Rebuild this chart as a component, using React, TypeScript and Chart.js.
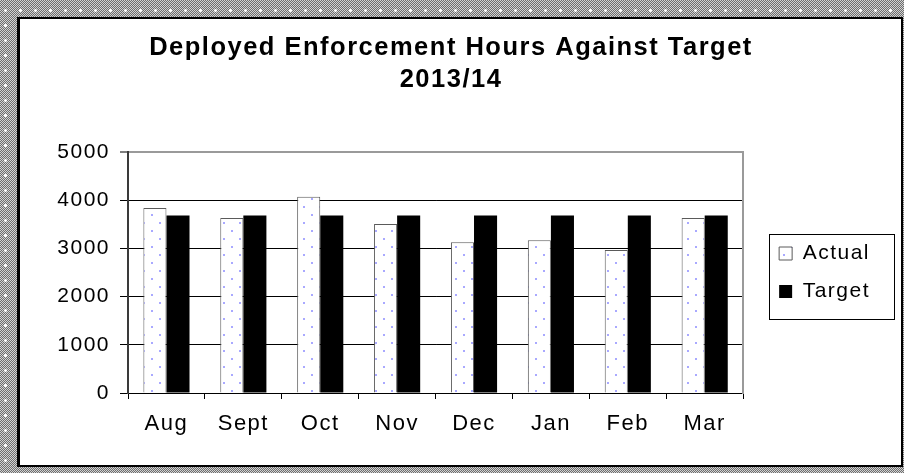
import React, { useEffect, useRef } from 'react';
import { Chart, registerables } from 'chart.js';

Chart.register(...registerables);

const FONT = "'Liberation Sans', Arial, sans-serif";

const categories = ['Aug', 'Sept', 'Oct', 'Nov', 'Dec', 'Jan', 'Feb', 'Mar'];
const actualHours = [3840, 3630, 4070, 3505, 3130, 3170, 2965, 3630];
const targetHours = [3680, 3680, 3680, 3680, 3680, 3680, 3680, 3680];
const yTickValues = [0, 1000, 2000, 3000, 4000, 5000];
const titleLines = ['Deployed Enforcement Hours Against Target', '2013/14'];
const seriesLabels = ['Actual', 'Target'];

function makeDotPattern(): CanvasPattern | string {
  const c = document.createElement('canvas');
  c.width = 16;
  c.height = 16;
  const g = c.getContext('2d');
  if (!g) return '#ffffff';
  g.fillStyle = '#ffffff';
  g.fillRect(0, 0, 16, 16);
  g.fillStyle = '#a9a9ff';
  g.fillRect(3, 3, 2, 2);
  g.fillRect(11, 11, 2, 2);
  const p = g.createPattern(c, 'repeat');
  return p || '#ffffff';
}

const SPACING = '1.5px';

const letterSpacingPlugin = {
  id: 'letterSpacing',
  beforeLayout(chart: any) {
    chart.ctx.letterSpacing = SPACING;
  },
  beforeDraw(chart: any) {
    chart.ctx.letterSpacing = SPACING;
  },
};

const legendFramePlugin = {
  id: 'legendFrame',
  afterDraw(chart: any) {
    const lg = chart.legend;
    if (!lg || !lg.legendHitBoxes || !lg.legendHitBoxes.length) return;
    const hb = lg.legendHitBoxes;
    const first = hb[0];
    const last = hb[hb.length - 1];
    const right = Math.max(...hb.map((h: any) => h.left + h.width));
    const x0 = Math.round(first.left - 10) + 0.5;
    const y0 = Math.round(first.top - 9) + 0.5;
    const x1 = Math.round(right + 24) + 0.5;
    const y1 = Math.round(last.top + last.height + 17) + 0.5;
    const ctx = chart.ctx;
    ctx.save();
    ctx.strokeStyle = '#000000';
    ctx.lineWidth = 1;
    ctx.strokeRect(x0, y0, x1 - x0, y1 - y0);
    ctx.restore();
  },
};

export default function App() {
  const canvasRef = useRef<HTMLCanvasElement | null>(null);

  useEffect(() => {
    const canvas = canvasRef.current;
    if (!canvas) return;
    const dots = makeDotPattern();
    const chart = new Chart(canvas, {
      type: 'bar',
      data: {
        labels: categories,
        datasets: [
          {
            label: seriesLabels[0],
            data: actualHours,
            backgroundColor: dots as any,
            borderColor: '#5a5a5a',
            borderWidth: 1,
            categoryPercentage: 0.6,
            barPercentage: 1.0,
          },
          {
            label: seriesLabels[1],
            data: targetHours,
            backgroundColor: '#000000',
            borderColor: '#000000',
            borderWidth: 0,
            categoryPercentage: 0.6,
            barPercentage: 1.0,
          },
        ],
      },
      options: {
        animation: false,
        responsive: true,
        maintainAspectRatio: false,
        layout: { padding: { left: 2, right: 21, top: 0, bottom: 0 } },
        plugins: {
          title: {
            display: true,
            text: titleLines,
            color: '#000000',
            font: { family: FONT, size: 25.5, weight: 'bold', lineHeight: '32px' },
            padding: { top: 13, bottom: 56 },
          },
          legend: {
            display: true,
            position: 'right',
            fullSize: false,
            align: 'center',
            labels: {
              color: '#000000',
              font: { family: FONT, size: 21 },
              boxWidth: 13,
              boxHeight: 13,
              padding: 17,
            },
          },
          tooltip: { enabled: false },
        },
        scales: {
          x: {
            grid: {
              display: true,
              drawOnChartArea: false,
              drawTicks: true,
              tickLength: 6,
              color: '#000000',
              offset: true,
            },
            border: { display: true, color: '#000000', width: 1 },
            ticks: {
              color: '#000000',
              font: { family: FONT, size: 22 },
              padding: 12,
              maxRotation: 0,
              autoSkip: false,
            },
            afterFit: (s: any) => {
              s.height = 72;
            },
          },
          y: {
            min: 0,
            max: 5000,
            afterBuildTicks: (s: any) => {
              s.ticks = yTickValues.map((v) => ({ value: v }));
            },
            grid: {
              color: (c: any) => (c.tick && c.tick.value === 5000 ? '#9a9a9a' : '#000000'),
              lineWidth: (c: any) => (c.tick && c.tick.value === 5000 ? 2 : 1),
              tickColor: '#000000',
              tickWidth: 1,
              tickLength: 8,
              drawTicks: true,
            },
            border: { display: true, color: '#3a3a3a', width: 2 },
            ticks: {
              color: '#000000',
              font: { family: FONT, size: 21 },
              padding: 10,
              callback: (v: any) => String(v),
            },
            afterFit: (s: any) => {
              s.width = 106;
            },
          },
          y2: {
            position: 'right',
            display: true,
            min: 0,
            max: 5000,
            grid: { display: false, drawOnChartArea: false, drawTicks: false },
            border: { display: true, color: '#9a9a9a', width: 2 },
            ticks: { display: false },
            afterFit: (s: any) => {
              s.width = 19;
            },
          },
        },
      },
      plugins: [letterSpacingPlugin, legendFramePlugin],
    });
    return () => {
      chart.destroy();
    };
  }, []);

  return (
    <div
      style={{
        position: 'fixed',
        left: 0,
        top: 0,
        width: 904,
        height: 473,
        overflow: 'hidden',
        backgroundColor: '#a4a4a4',
        backgroundImage:
          'radial-gradient(circle, #ffffff 0 1.2px, transparent 1.6px), repeating-conic-gradient(#6e6e6e 0% 25%, #d2d2d2 0% 50%)',
        backgroundSize: '15px 15px, 2px 2px',
        backgroundPosition: '-2px 3px, 0 0',
      }}
    >
      <div
        style={{
          position: 'absolute',
          left: 17,
          top: 17,
          width: 881,
          height: 446,
          background: '#ffffff',
          borderLeft: '3px solid #000',
          borderTop: '2px solid #000',
          borderRight: '2px solid #000',
          borderBottom: '2px solid #000',
        }}
      >
        <div style={{ position: 'relative', width: 881, height: 446 }}>
          <canvas ref={canvasRef} />
        </div>
      </div>
    </div>
  );
}
